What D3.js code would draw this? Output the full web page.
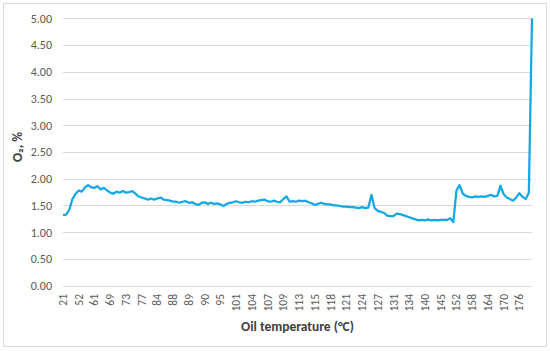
<!DOCTYPE html>
<html>
<head>
<meta charset="utf-8">
<script src="https://cdn.jsdelivr.net/npm/d3@7"></script>
<style>
  body { margin: 0; background: #fff; }
  text { font-family: Carlito, Calibri, Lato, sans-serif; }
</style>
</head>
<body>
<div id="chart"></div>
<script>
'use strict'

// temperature labels shown on the category axis (one every 5 readings)
var tickLabels = ["21", "52", "61", "69", "73", "77", "84", "88", "89", "90",
                  "95", "101", "104", "107", "109", "113", "115", "118", "121", "124",
                  "127", "131", "134", "140", "145", "152", "158", "164", "170", "176"];
var labelStep = 5;

// O2 readings, %
var o2 = [
  1.32, 1.33, 1.42, 1.62, 1.72, 1.78, 1.76, 1.84, 1.88, 1.84,
  1.83, 1.86, 1.80, 1.83, 1.78, 1.74, 1.72, 1.76, 1.74, 1.77,
  1.74, 1.75, 1.77, 1.72, 1.67, 1.65, 1.63, 1.61, 1.63, 1.61,
  1.63, 1.65, 1.61, 1.60, 1.59, 1.57, 1.57, 1.55, 1.57, 1.58,
  1.55, 1.56, 1.53, 1.51, 1.55, 1.56, 1.53, 1.55, 1.53, 1.54,
  1.52, 1.49, 1.53, 1.55, 1.56, 1.58, 1.56, 1.55, 1.57, 1.56,
  1.58, 1.57, 1.59, 1.60, 1.61, 1.58, 1.57, 1.59, 1.57, 1.56,
  1.62, 1.67, 1.57, 1.58, 1.57, 1.59, 1.58, 1.59, 1.56, 1.54,
  1.51, 1.53, 1.55, 1.53, 1.52, 1.52, 1.50, 1.50, 1.49, 1.48,
  1.48, 1.47, 1.47, 1.46, 1.45, 1.47, 1.45, 1.46, 1.70, 1.45,
  1.40, 1.38, 1.36, 1.31, 1.30, 1.30, 1.35, 1.34, 1.32, 1.30,
  1.28, 1.26, 1.24, 1.22, 1.23, 1.22, 1.24, 1.22, 1.23, 1.22,
  1.23, 1.23, 1.23, 1.26, 1.19, 1.78, 1.88, 1.72, 1.68, 1.66,
  1.65, 1.67, 1.66, 1.67, 1.66, 1.68, 1.70, 1.67, 1.68, 1.87,
  1.71, 1.65, 1.62, 1.59, 1.65, 1.73, 1.66, 1.62, 1.74, 5.00
];

var yTicks = [0, 0.5, 1, 1.5, 2, 2.5, 3, 3.5, 4, 4.5, 5];

var width = 550, height = 351;
var svg = d3.select("#chart").append("svg")
    .attr("width", width)
    .attr("height", height);

// chart border
svg.append("rect")
    .attr("x", 3.5).attr("y", 3.5)
    .attr("width", 543).attr("height", 343)
    .attr("fill", "#fff")
    .attr("stroke", "#d9d9d9");

var x = d3.scaleLinear().domain([0, o2.length - 1]).range([63, 532]);
var y = d3.scaleLinear().domain([0, 5]).range([285.7, 18.3]);

// gridlines
svg.append("g").selectAll("line")
    .data(yTicks)
    .enter().append("line")
    .attr("x1", 63).attr("x2", 532)
    .attr("y1", function(d) { return Math.round(y(d)) + 0.5; })
    .attr("y2", function(d) { return Math.round(y(d)) + 0.5; })
    .attr("stroke", "#d9d9d9")
    .attr("stroke-width", 1);

// y axis labels
var yAxis = d3.axisLeft(y).tickValues(yTicks).tickSize(0).tickPadding(0)
    .tickFormat(d3.format(".2f"));
var yg = svg.append("g").attr("transform", "translate(52,0)").call(yAxis);
yg.select(".domain").remove();
yg.selectAll("text")
    .attr("fill", "#595959")
    .style("font-size", "12px")
    .style("font-family", "Carlito, Calibri, Lato, sans-serif");

// x axis labels, rotated
var xg = svg.append("g");
xg.selectAll("text")
    .data(tickLabels)
    .enter().append("text")
    .attr("transform", function(d, i) {
        return "translate(" + (x(i * labelStep) + 4) + ",294) rotate(-90)";
    })
    .attr("text-anchor", "end")
    .attr("fill", "#595959")
    .style("font-size", "11.5px")
    .text(function(d) { return d; });

// series line
var line = d3.line()
    .x(function(d, i) { return x(i); })
    .y(function(d) { return y(d); });

svg.append("path")
    .datum(o2)
    .attr("d", line)
    .attr("fill", "none")
    .attr("stroke", "#12a8e8")
    .attr("stroke-width", 2.25)
    .attr("stroke-linejoin", "round");

// axis titles
svg.append("text")
    .attr("x", 297.5).attr("y", 331)
    .attr("text-anchor", "middle")
    .attr("fill", "#404040")
    .style("font-size", "13.5px")
    .style("font-weight", "bold")
    .text("Oil temperature (°C)");

svg.append("text")
    .attr("transform", "translate(22,147) rotate(-90)")
    .attr("text-anchor", "middle")
    .attr("fill", "#404040")
    .style("font-size", "13.5px")
    .style("font-weight", "bold")
    .text("O₂, %");
</script>
</body>
</html>
